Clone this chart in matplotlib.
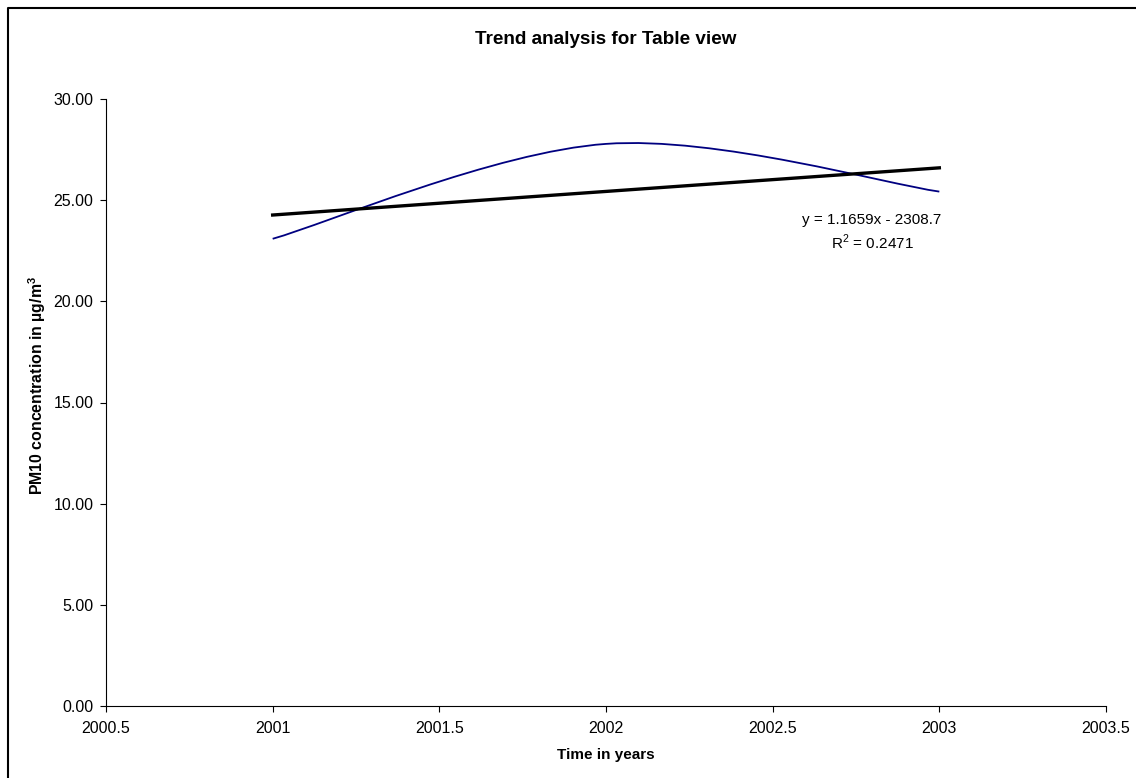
import numpy as np
import matplotlib
matplotlib.use('Agg')
import matplotlib.pyplot as plt
from matplotlib.path import Path
from matplotlib.patches import PathPatch
from matplotlib.lines import Line2D

plt.rcParams['font.family'] = ['Liberation Sans', 'DejaVu Sans']
plt.rcParams['mathtext.fontset'] = 'custom'
plt.rcParams['mathtext.rm'] = 'Liberation Sans'
plt.rcParams['mathtext.bf'] = 'Liberation Sans:bold'

# PM10 yearly means
years = [2001, 2002, 2003]
pm10 = [23.091, 27.781, 25.423]

# linear trend (Excel trendline)
slope = 1.1659
intercept = -2308.7
r2 = 0.2471

xticks = [2000.5, 2001, 2001.5, 2002, 2002.5, 2003, 2003.5]
yticks = [0, 5, 10, 15, 20, 25, 30]

fig = plt.figure(figsize=(11.36, 7.78), dpi=100)
ax = fig.add_axes([106 / 1136, 1 - 706 / 778, 1000 / 1136, 607 / 778])

# smoothed line: cubic bezier segments, Excel style
pts = np.column_stack([years, pm10]).astype(float)
verts = [pts[0]]
codes = [Path.MOVETO]
n = len(pts)
for i in range(n - 1):
    p0 = pts[max(i - 1, 0)]
    p1 = pts[i]
    p2 = pts[i + 1]
    p3 = pts[min(i + 2, n - 1)]
    c1 = p1 + (p2 - p0) / 6
    c2 = p2 - (p3 - p1) / 6
    verts += [c1, c2, p2]
    codes += [Path.CURVE4] * 3
ax.add_patch(PathPatch(Path(verts, codes), facecolor='none',
                       edgecolor='#000080', linewidth=1.3))

tx = np.array([years[0], years[-1]])
ax.plot(tx, slope * tx + intercept, color='black', linewidth=2.4)

ax.text(2002.798, 24.02, 'y = %.4fx - %.1f' % (slope, -intercept),
        ha='center', va='center', fontsize=11)
ax.text(2002.798, 22.93, 'R$^2$ = %.4f' % r2,
        ha='center', va='center', fontsize=11)

ax.set_xlim(2000.5, 2003.5)
ax.set_ylim(0, 30)
ax.set_xticks(xticks)
ax.set_xticklabels([('%g' % v) for v in xticks])
ax.set_yticks(yticks)
ax.set_yticklabels(['%.2f' % v for v in yticks])
ax.tick_params(axis='both', direction='out', length=4, width=0.8,
               labelsize=11.5, color='black')
ax.tick_params(axis='x', pad=7)
ax.tick_params(axis='y', pad=5)
for s in ['top', 'right']:
    ax.spines[s].set_visible(False)
for s in ['left', 'bottom']:
    ax.spines[s].set_linewidth(0.8)
    ax.spines[s].set_color('black')

fig.text(606 / 1136, 1 - 40 / 778, 'Trend analysis for Table view',
         ha='center', va='center', fontsize=13.6, fontweight='bold')
fig.text(606 / 1136, 1 - 755 / 778, 'Time in years',
         ha='center', va='center', fontsize=11, fontweight='bold')
fig.text(37 / 1136, 1 - 385 / 778, r'PM10 concentration in µg/m$^\mathbf{3}$',
         ha='center', va='center', rotation=90, fontsize=11.4, fontweight='bold')

# chart border
fig.add_artist(Line2D([8 / 1136, 8 / 1136, 1.0], [0.0, 1 - 8 / 778, 1 - 8 / 778],
                      transform=fig.transFigure, color='black', linewidth=1.5))

fig.savefig('out.png', dpi=100)
